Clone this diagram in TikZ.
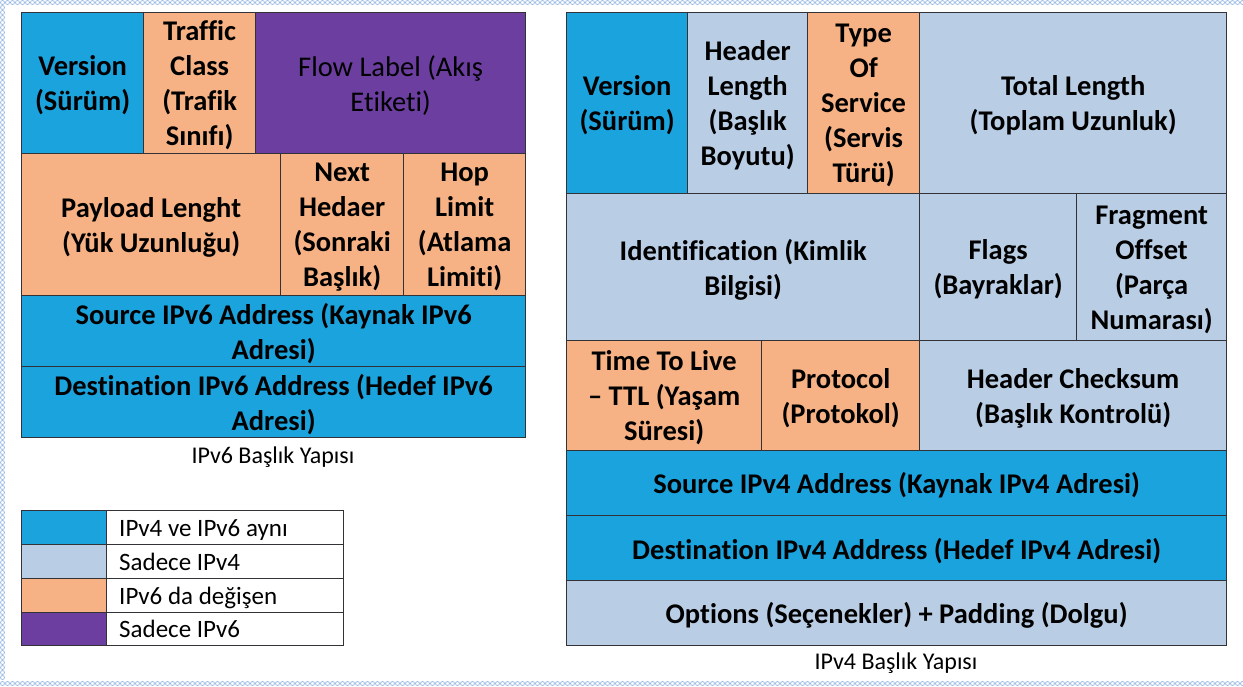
\documentclass[tikz,border=0pt]{standalone}
\usepackage{fontspec}
\setmainfont[Ligatures=NoCommon]{Carlito}
\definecolor{cyanc}{RGB}{27,163,222}
\definecolor{lightc}{RGB}{185,205,229}
\definecolor{orangec}{RGB}{246,178,132}
\definecolor{purplec}{RGB}{107,62,160}
\definecolor{framec}{RGB}{160,190,230}
\definecolor{linec}{RGB}{50,50,55}
\newcommand\mycell[7]{\node[cellst, fill=#1, minimum width={#4-#2}, minimum height={#5-#3}, anchor=north west] (#6) at (#2,#3) {};
  \node[celltext] (#6-t) at ([yshift=-2.5pt]#6.center) {#7};}
\begin{document}
\begin{tikzpicture}[x=1pt,y=-1pt,
  cellst/.style={draw=linec, line width=1.3pt, inner sep=0pt},
  celltext/.style={inner sep=0pt, align=center,
    font=\fontsize{28.5}{35}\selectfont\bfseries},
  legtext/.style={font=\fontsize{25}{28}\selectfont, anchor=base west, inner sep=0pt},
  capst/.style={font=\fontsize{24}{28}\selectfont, inner sep=0pt},
  legbox/.style={draw=linec, line width=1.3pt, inner sep=0pt, anchor=north west},
  ring/.style={draw=framec, line width=0.8pt}]
\fill[white] (0,0) rectangle (1243,686);
\useasboundingbox (0,0) rectangle (1243,686);
% decorative frame
\foreach \i in {0,...,248} {\draw[ring] (2.5+5*\i,2.5) circle (2);
  \draw[ring] (2.5+5*\i,683.5) circle (2);}
\foreach \j in {1,...,135} {\draw[ring] (2.5,2.5+5*\j) circle (2);}
% IPv6 header
\mycell{cyanc}{21}{12}{143}{153}{v6ver}{Version\\(Sürüm)}
\mycell{orangec}{143}{12}{255}{153}{v6tc}{Traffic\\Class\\(Trafik\\Sınıfı)}
\mycell{purplec}{255}{12}{525}{153}{v6flow}{\mdseries Flow Label (Akış\\\mdseries Etiketi)}
\mycell{orangec}{21}{153}{280}{295}{v6pay}{Payload Lenght\\(Yük Uzunluğu)}
\mycell{orangec}{280}{153}{403}{295}{v6next}{Next\\Hedaer\\(Sonraki\\Başlık)}
\mycell{orangec}{403}{153}{525}{295}{v6hop}{Hop\\Limit\\(Atlama\\Limiti)}
\mycell{cyanc}{21}{295}{525}{366}{v6src}{Source IPv6 Address (Kaynak IPv6\\Adresi)}
\mycell{cyanc}{21}{366}{525}{437}{v6dst}{Destination IPv6 Address (Hedef IPv6\\Adresi)}
\node[capst] (cap6) at (273,457) {IPv6 Başlık Yapısı};
% legend
\node[legbox, fill=cyanc, minimum width=85, minimum height=34] (lg1) at (21,510) {};
\node[legbox, fill=lightc, minimum width=85, minimum height=34] (lg2) at (21,544) {};
\node[legbox, fill=orangec, minimum width=85, minimum height=34] (lg3) at (21,578) {};
\node[legbox, fill=purplec, minimum width=85, minimum height=33] (lg4) at (21,612) {};
\node[legbox, minimum width=237, minimum height=34] (lt1) at (106,510) {};
\node[legbox, minimum width=237, minimum height=34] (lt2) at (106,544) {};
\node[legbox, minimum width=237, minimum height=34] (lt3) at (106,578) {};
\node[legbox, minimum width=237, minimum height=33] (lt4) at (106,612) {};
\node[legtext] (ltx1) at ([xshift=13pt,yshift=-8.5pt]lt1.west) {IPv4 ve IPv6 aynı};
\node[legtext] (ltx2) at ([xshift=13pt,yshift=-8.5pt]lt2.west) {Sadece IPv4};
\node[legtext] (ltx3) at ([xshift=13pt,yshift=-8.5pt]lt3.west) {IPv6 da değişen};
\node[legtext] (ltx4) at ([xshift=13pt,yshift=-8.5pt]lt4.west) {Sadece IPv6};
% IPv4 header
\mycell{cyanc}{566}{12}{687}{193}{v4ver}{Version\\(Sürüm)}
\mycell{lightc}{687}{12}{807}{193}{v4hl}{Header\\Length\\(Başlık\\Boyutu)}
\mycell{orangec}{807}{12}{919}{193}{v4tos}{Type\\Of\\Service\\(Servis\\Türü)}
\mycell{lightc}{919}{12}{1226}{193}{v4tl}{Total Length\\(Toplam Uzunluk)}
\mycell{lightc}{566}{193}{919}{340}{v4id}{Identification (Kimlik\\Bilgisi)}
\mycell{lightc}{919}{193}{1076}{340}{v4fl}{Flags\\(Bayraklar)}
\mycell{lightc}{1076}{193}{1226}{340}{v4fo}{Fragment\\Offset\\(Parça\\Numarası)}
\mycell{orangec}{566}{340}{761}{450}{v4ttl}{Time To Live\\-- TTL (Yaşam\\Süresi)}
\mycell{orangec}{761}{340}{919}{450}{v4pr}{Protocol\\(Protokol)}
\mycell{lightc}{919}{340}{1226}{450}{v4cs}{Header Checksum\\(Başlık Kontrolü)}
\mycell{cyanc}{566}{450}{1226}{515}{v4src}{Source IPv4 Address (Kaynak IPv4 Adresi)}
\mycell{cyanc}{566}{515}{1226}{580}{v4dst}{Destination IPv4 Address (Hedef IPv4 Adresi)}
\mycell{lightc}{566}{580}{1226}{645}{v4opt}{Options (Seçenekler) + Padding (Dolgu)}
\node[capst] (cap4) at (896,663) {IPv4 Başlık Yapısı};
\end{tikzpicture}
\end{document}
